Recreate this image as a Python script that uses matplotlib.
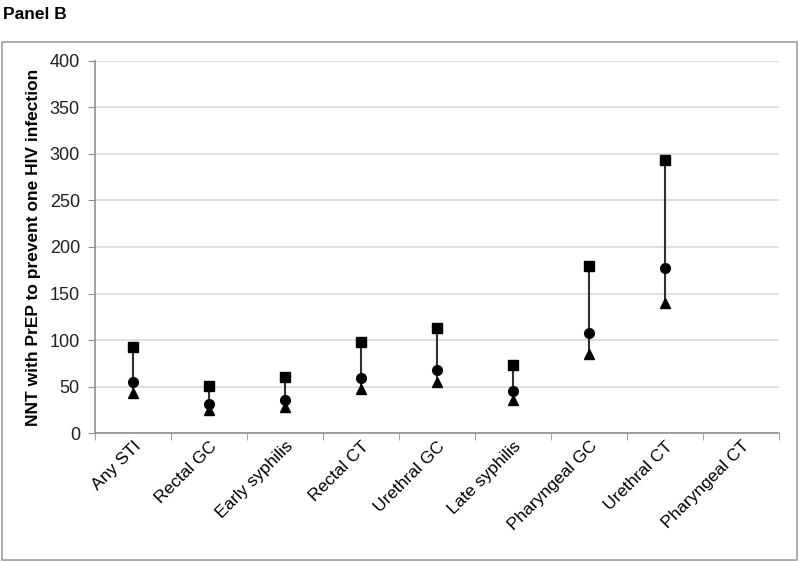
import numpy as np
import matplotlib.pyplot as plt
from matplotlib.patches import Rectangle

plt.rcParams['font.family'] = ['Liberation Sans', 'DejaVu Sans']

categories = ['Any STI', 'Rectal GC', 'Early syphilis', 'Rectal CT', 'Urethral GC',
              'Late syphilis', 'Pharyngeal GC', 'Urethral CT', 'Pharyngeal CT']
upper = [92, 51, 60, 98, 113, 73, 180, 294, np.nan]
point = [55, 31, 36, 59, 68, 45, 108, 177, np.nan]
lower = [43, 25, 28, 47, 55, 36, 85, 140, np.nan]

fig = plt.figure(figsize=(8, 5.62), dpi=100)
fig.patches.append(Rectangle((0.003, 0.004), 0.993, 0.921, transform=fig.transFigure,
                             fill=False, edgecolor='#a0a0a0', linewidth=1.2))
fig.text(0.004, 0.975, 'Panel B', fontsize=12.5, fontweight='bold', va='center', ha='left')

ax = fig.add_axes([0.119, 0.2295, 0.855, 0.662])
x = np.arange(len(categories))

# range lines
ax.vlines(x, lower, upper, color='#303030', linewidth=1.5, zorder=2)
ax.plot(x, upper, linestyle='none', marker='s', color='black', markersize=7, zorder=3)
ax.plot(x, point, linestyle='none', marker='o', color='black', markersize=7, zorder=3)
ax.plot(x, lower, linestyle='none', marker='^', color='black', markersize=7, zorder=3)

ax.set_xlim(-0.5, len(categories) - 0.5)
ax.set_ylim(0, 400)
ax.set_yticks(range(0, 401, 50))
ax.yaxis.grid(True, color='#d9d9d9', linewidth=1.2)
ax.set_axisbelow(True)

ax.set_xticks(x)
ax.set_xticklabels(categories, rotation=45, ha='right', rotation_mode='anchor', fontsize=12.5)
ax.tick_params(axis='x', length=0, pad=4)
ax.set_xticks(np.arange(-0.5, len(categories), 1), minor=True)
ax.tick_params(axis='x', which='minor', length=5, color='#909090', direction='out')
ax.tick_params(axis='y', length=5, color='#909090', direction='out', labelsize=13, pad=6,
               labelcolor='#202020')

for s in ['top', 'right']:
    ax.spines[s].set_visible(False)
for s in ['left', 'bottom']:
    ax.spines[s].set_color('#909090')
    ax.spines[s].set_linewidth(1.2)

ax.set_ylabel('NNT with PrEP to prevent one HIV infection', fontsize=12.5, fontweight='bold', labelpad=6)

fig.savefig('out.png', dpi=100)
